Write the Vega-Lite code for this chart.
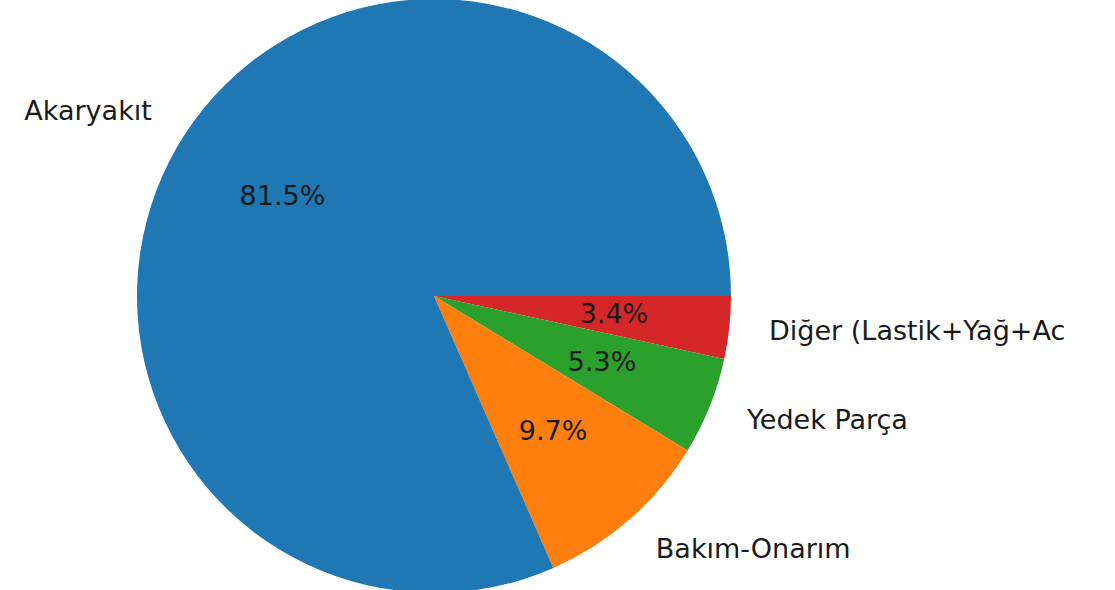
{
  "$schema": "https://vega.github.io/schema/vega-lite/v6.json",
  "width": 868,
  "height": 592,
  "autosize": {"type": "none"},
  "padding": {"left": 0, "top": 0, "right": 222, "bottom": 0},
  "background": "white",
  "view": {"stroke": null},
  "config": {"font": "DejaVu Sans"},
  "data": {
    "values": [
      {"cat": "Diğer (Lastik+Yağ+Ac", "value": 3.4, "pct": "3.4%", "ord": 1},
      {"cat": "Yedek Parça", "value": 5.3, "pct": "5.3%", "ord": 2},
      {"cat": "Bakım-Onarım", "value": 9.7, "pct": "9.7%", "ord": 3},
      {"cat": "Akaryakıt", "value": 81.5, "pct": "81.5%", "ord": 4}
    ]
  },
  "encoding": {
    "theta": {"field": "value", "type": "quantitative", "stack": true,
      "scale": {"range": [1.5707963, 7.8539816]}},
    "order": {"field": "ord", "type": "quantitative"}
  },
  "layer": [
    {
      "mark": {"type": "arc", "outerRadius": 297},
      "encoding": {
        "color": {"field": "cat", "type": "nominal", "legend": null,
          "scale": {"domain": ["Akaryakıt", "Bakım-Onarım", "Yedek Parça", "Diğer (Lastik+Yağ+Ac"],
            "range": ["#1f77b4", "#ff7f0e", "#2ca02c", "#d62728"]}}
      }
    },
    {
      "mark": {"type": "text", "radius": 181, "fontSize": 27, "color": "#1a1a1a", "align": "center", "baseline": "middle"},
      "encoding": {"text": {"field": "pct"}}
    },
    {
      "mark": {"type": "text", "radius": 337, "fontSize": 27, "color": "#1a1a1a", "align": "right", "baseline": "middle"},
      "encoding": {"text": {"condition": {"test": "datum.cat === 'Akaryakıt'", "field": "cat"}, "value": ""}}
    },
    {
      "mark": {"type": "text", "radius": 337, "fontSize": 27, "color": "#1a1a1a", "align": "left", "baseline": "middle"},
      "encoding": {"text": {"condition": {"test": "datum.cat !== 'Akaryakıt'", "field": "cat"}, "value": ""}}
    }
  ]
}
